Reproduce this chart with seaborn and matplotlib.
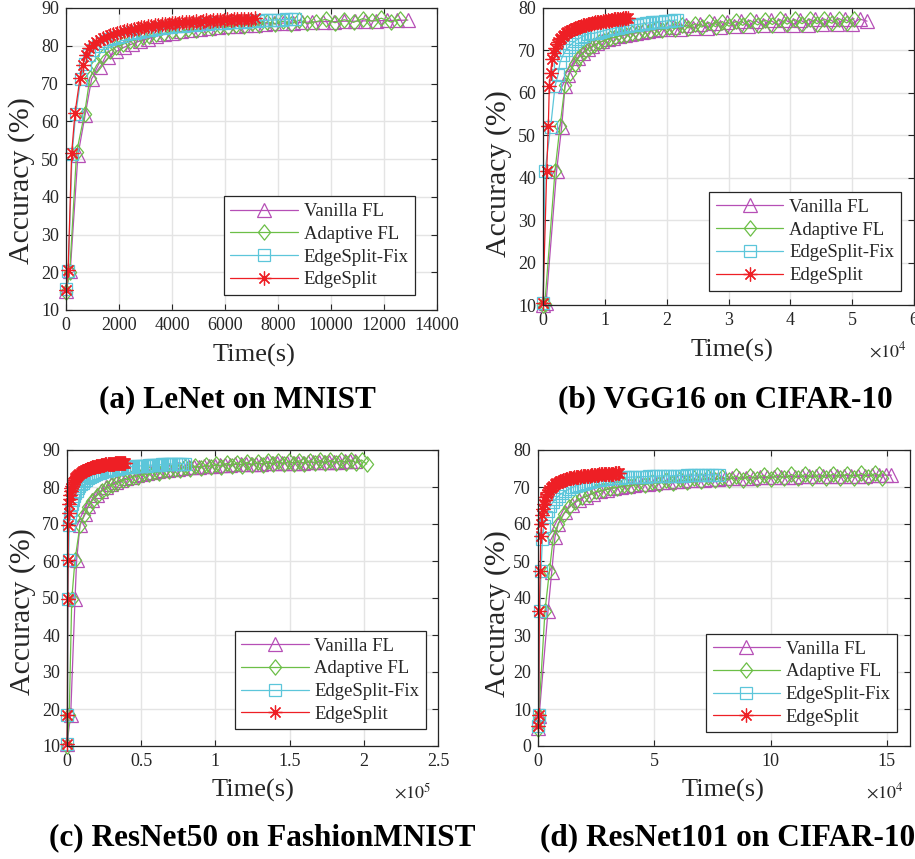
import matplotlib
matplotlib.use("Agg")
import matplotlib.pyplot as plt
from matplotlib.path import Path
from matplotlib.ticker import FuncFormatter
import seaborn as sns

# ---------------------------------------------------------------- data
SERIES = ["Vanilla FL", "Adaptive FL", "EdgeSplit-Fix", "EdgeSplit"]

# (a) LeNet on MNIST
lenet_vanilla_t = [0, 160, 450, 720, 970, 1280, 1600, 1900,
                   2200, 2500, 2800, 3100, 3400, 3700, 4000, 4350,
                   4700, 5050, 5400, 5750, 6100, 6450, 6800, 7150,
                   7500, 7850, 8200, 8550, 8900, 9300, 9700, 10100,
                   10500, 10900, 11300, 11700, 12100, 12500, 12900]
lenet_vanilla_acc = [15.0, 20.3, 51.0, 61.6, 71.3, 74.4, 76.9, 78.5,
                     79.6, 80.5, 81.3, 81.9, 82.5, 83.0, 83.4, 83.8,
                     84.1, 84.4, 84.7, 84.9, 85.1, 85.3, 85.5, 85.6,
                     85.8, 85.9, 86.0, 86.1, 86.2, 86.3, 86.4, 86.4,
                     86.5, 86.5, 86.6, 86.6, 86.7, 86.7, 86.8]
lenet_adaptive_t = [0, 140, 400, 700, 900, 1150, 1400, 1650,
                    1900, 2150, 2400, 2650, 2900, 3150, 3400, 3700,
                    4000, 4300, 4600, 4900, 5200, 5500, 5800, 6100,
                    6400, 6700, 7000, 7300, 7600, 7900, 8200, 8500,
                    8800, 9100, 9450, 9800, 10150, 10500, 10850, 11200,
                    11550, 11900, 12250, 12600]
lenet_adaptive_acc = [14.8, 20.0, 51.8, 62.0, 71.4, 74.8, 77.2, 78.6,
                      79.7, 80.4, 81.2, 81.6, 82.3, 82.6, 83.1, 83.3,
                      83.9, 83.6, 84.4, 84.1, 84.9, 84.6, 85.3, 84.9,
                      85.6, 85.2, 85.9, 85.4, 86.3, 85.7, 86.5, 85.8,
                      86.8, 85.9, 86.4, 87.0, 86.1, 86.9, 86.2, 87.2,
                      86.5, 87.3, 86.3, 87.1]
lenet_fix_t = [0, 85, 230, 365, 560, 720, 880, 1035,
               1190, 1345, 1500, 1655, 1810, 1965, 2120, 2275,
               2430, 2585, 2740, 2895, 3050, 3205, 3360, 3515,
               3670, 3825, 3980, 4135, 4290, 4445, 4600, 4755,
               4910, 5065, 5220, 5375, 5530, 5685, 5840, 5995,
               6150, 6305, 6460, 6615, 6770, 6925, 7080, 7235,
               7390, 7545, 7700, 7855, 8010, 8165, 8320, 8475,
               8630]
lenet_fix_acc = [15.5, 20.4, 51.4, 61.8, 71.3, 75.2, 77.6, 78.9,
                 79.9, 80.6, 81.2, 81.7, 82.1, 82.4, 82.7, 83.0,
                 83.3, 83.5, 83.7, 83.9, 84.1, 84.3, 84.4, 84.6,
                 84.7, 84.9, 85.0, 85.1, 85.2, 85.3, 85.4, 85.5,
                 85.6, 85.7, 85.7, 85.8, 85.9, 86.0, 86.0, 86.1,
                 86.2, 86.2, 86.3, 86.4, 86.4, 86.5, 86.5, 86.6,
                 86.7, 86.7, 86.8, 86.8, 86.9, 86.9, 87.0, 87.0,
                 87.1]
lenet_edgesplit_t = [0, 80, 215, 340, 530, 630, 755, 880,
                     1010, 1140, 1270, 1400, 1530, 1660, 1790, 1920,
                     2050, 2180, 2310, 2440, 2570, 2700, 2830, 2960,
                     3090, 3220, 3350, 3480, 3610, 3740, 3870, 4000,
                     4130, 4260, 4390, 4520, 4650, 4780, 4910, 5040,
                     5170, 5300, 5430, 5560, 5690, 5820, 5950, 6080,
                     6210, 6340, 6470, 6600, 6730, 6860, 6990, 7120]
lenet_edgesplit_acc = [15.3, 20.6, 51.7, 62.2, 71.5, 74.9, 77.5, 79.3,
                       80.2, 80.9, 81.5, 82.0, 82.4, 82.8, 83.1, 83.4,
                       83.7, 83.9, 84.1, 84.3, 84.5, 84.7, 84.9, 85.0,
                       85.1, 85.3, 85.4, 85.5, 85.7, 85.8, 85.8, 86.0,
                       86.1, 86.0, 86.2, 86.3, 86.3, 86.4, 86.5, 86.4,
                       86.6, 86.7, 86.6, 86.8, 86.7, 86.9, 86.9, 87.0,
                       86.9, 87.0, 87.1, 87.0, 87.2, 87.1, 87.2, 87.3]

# (b) VGG16 on CIFAR-10
vgg_vanilla_t = [0, 500, 2200, 3020, 3560, 4100, 4860, 5600,
                 6400, 7200, 8000, 8800, 9600, 10500, 11400, 12300,
                 13200, 14100, 15000, 16000, 17000, 18000, 19000, 20000,
                 21000, 22100, 23200, 24300, 25400, 26500, 27600, 28700,
                 29800, 30900, 32000, 33200, 34400, 35600, 36800, 38000,
                 39200, 40400, 41600, 42800, 44000, 45200, 46400, 47600,
                 48800, 50000, 51200, 52400]
vgg_vanilla_acc = [10.0, 10.5, 41.6, 52.0, 61.5, 64.3, 66.8, 68.3,
                   69.5, 70.4, 71.1, 71.7, 72.2, 72.7, 73.0, 73.4,
                   73.6, 73.9, 74.1, 74.4, 74.6, 74.8, 75.0, 75.1,
                   75.6, 75.1, 75.9, 75.3, 76.2, 75.4, 76.5, 75.6,
                   76.7, 75.7, 76.9, 75.8, 77.0, 75.9, 77.1, 76.0,
                   77.2, 76.1, 77.2, 76.1, 77.3, 76.2, 77.3, 76.2,
                   77.4, 76.3, 77.4, 76.9]
vgg_adaptive_t = [0, 300, 1940, 2750, 3560, 4300, 5100, 5900,
                  6700, 7500, 8300, 9100, 9900, 10800, 11700, 12600,
                  13500, 14400, 15300, 16300, 17300, 18300, 19300, 20300,
                  21300, 22400, 23500, 24600, 25700, 26800, 27900, 29000,
                  30100, 31200, 32300, 33500, 34700, 35900, 37100, 38300,
                  39500, 40700, 41900, 43100, 44300, 45500, 46700, 47900,
                  49100, 50300]
vgg_adaptive_acc = [10.0, 10.3, 41.6, 52.2, 61.8, 64.6, 66.9, 68.5,
                    69.6, 70.6, 71.2, 71.9, 72.3, 72.9, 73.1, 73.6,
                    73.7, 74.2, 74.2, 74.8, 74.6, 75.3, 74.9, 75.6,
                    75.1, 76.0, 75.3, 76.3, 75.5, 76.6, 75.6, 76.8,
                    75.7, 76.9, 75.9, 77.1, 76.0, 77.2, 76.1, 77.3,
                    76.2, 77.3, 76.3, 77.4, 76.3, 77.4, 76.4, 77.5,
                    76.5, 77.5]
vgg_fix_t = [0, 320, 1240, 1940, 2430, 2750, 3240, 3700,
             4200, 4700, 5200, 5700, 6200, 6700, 7200, 7700,
             8200, 8700, 9200, 9700, 10200, 10700, 11200, 11700,
             12200, 12700, 13200, 13700, 14200, 14700, 15200, 15700,
             16200, 16700, 17200, 17700, 18200, 18700, 19200, 19700,
             20200, 20700, 21200, 21700]
vgg_fix_acc = [10.4, 41.5, 52.0, 61.5, 64.3, 67.2, 68.9, 70.0,
               70.9, 71.6, 72.2, 72.7, 73.1, 73.5, 73.8, 74.1,
               74.0, 74.2, 74.4, 74.6, 74.8, 75.0, 75.1, 75.3,
               75.4, 75.5, 75.7, 75.8, 75.9, 76.0, 76.1, 76.2,
               76.3, 76.4, 76.5, 76.6, 76.7, 76.8, 76.8, 76.9,
               77.0, 77.0, 77.1, 77.2]
vgg_edgesplit_t = [0, 600, 860, 1020, 1240, 1460, 1700, 1950,
                   2200, 2450, 2700, 2950, 3200, 3450, 3700, 3950,
                   4200, 4450, 4700, 4950, 5200, 5450, 5700, 5950,
                   6200, 6450, 6700, 6950, 7200, 7450, 7700, 7950,
                   8200, 8450, 8700, 8950, 9200, 9450, 9700, 9950,
                   10200, 10450, 10700, 10950, 11200, 11450, 11700, 11950,
                   12200, 12450, 12700, 12950, 13200, 13450, 13700]
vgg_edgesplit_acc = [10.5, 41.6, 52.2, 61.6, 64.7, 67.9, 69.5, 70.6,
                     71.4, 72.0, 72.6, 73.0, 73.4, 73.7, 74.0, 74.3,
                     74.5, 74.7, 74.9, 75.1, 75.2, 75.4, 75.5, 75.6,
                     75.8, 75.9, 76.0, 76.1, 76.2, 76.3, 76.3, 76.4,
                     76.5, 76.6, 76.6, 76.7, 76.8, 76.8, 76.9, 76.9,
                     77.0, 77.1, 77.0, 77.2, 77.2, 77.3, 77.3, 77.4,
                     77.4, 77.5, 77.5, 77.6, 77.6, 77.7, 77.7]

# (c) ResNet50 on FashionMNIST
r50_vanilla_t = [0, 2500, 5400, 6500, 8800, 12100, 14400, 17000,
                 20000, 23000, 26000, 29500, 33000, 36500, 40000, 43500,
                 47000, 50500, 54000, 57500, 61000, 64500, 68000, 71500,
                 75000, 78500, 82000, 85500, 89000, 92500, 96000, 99500,
                 103000, 106500, 110000, 113500, 117000, 120500, 124000, 127500,
                 131000, 134500, 138000, 141500, 145000, 148500, 152000, 155500,
                 159000, 162500, 166000, 169500, 173000, 176500, 180000, 183500,
                 187000, 190500, 194000]
r50_vanilla_acc = [10.5, 18.5, 49.7, 60.3, 69.8, 72.6, 74.9, 76.6,
                   77.9, 79.0, 79.9, 80.7, 81.3, 81.9, 82.4, 82.8,
                   83.2, 83.5, 83.8, 84.1, 84.3, 84.5, 84.7, 84.9,
                   85.0, 85.2, 85.3, 85.4, 85.5, 85.6, 85.7, 85.8,
                   85.9, 85.9, 86.0, 86.1, 86.1, 86.2, 86.2, 86.3,
                   86.3, 86.4, 86.4, 86.5, 86.5, 86.5, 86.6, 86.6,
                   86.6, 86.7, 86.7, 86.7, 86.8, 86.8, 86.8, 86.8,
                   86.9, 86.9, 86.9]
r50_adaptive_t = [0, 1500, 3200, 5400, 8800, 11500, 14000, 17000,
                  20000, 23500, 27000, 30500, 34000, 37500, 41000, 44500,
                  48000, 51500, 55000, 58500, 62000, 65500, 69000, 72500,
                  76000, 79500, 83000, 86500, 90000, 93500, 97000, 100500,
                  104000, 107500, 111000, 114500, 118000, 121500, 125000, 128500,
                  132000, 135500, 139000, 142500, 146000, 149500, 153000, 156500,
                  160000, 163500, 167000, 170500, 174000, 177500, 181000, 184500,
                  188000, 191500, 195000, 198500, 202000]
r50_adaptive_acc = [10.0, 18.5, 49.7, 60.3, 69.8, 72.4, 74.6, 76.3,
                    77.6, 78.9, 79.7, 80.6, 81.0, 81.8, 82.1, 82.7,
                    82.8, 83.5, 83.4, 84.1, 83.8, 84.6, 84.2, 85.0,
                    84.6, 85.4, 84.9, 85.7, 85.1, 86.0, 85.3, 86.2,
                    85.5, 86.4, 85.7, 86.6, 85.8, 86.7, 85.9, 86.8,
                    86.0, 86.9, 86.1, 87.0, 86.2, 87.0, 86.3, 87.1,
                    86.3, 87.1, 86.4, 87.2, 86.4, 87.2, 86.5, 87.2,
                    86.5, 87.3, 86.5, 87.3, 86.2]
r50_fix_t = [0, 300, 700, 1100, 1600, 2100, 2700, 3300,
             4000, 4800, 5600, 6500, 7400, 8400, 9400, 10500,
             11600, 12800, 14000, 15300, 16600, 18000, 19400, 20800,
             22200, 23700, 25200, 26700, 28200, 29700, 31200, 32700,
             34200, 35700, 37200, 38700, 40200, 41700, 43200, 44700,
             46200, 47700, 49200, 50700, 52200, 53700, 55200, 56700,
             58200, 59700, 61200, 62700, 64200, 65700, 67200, 68700,
             70200, 71700, 73200, 74700, 76200, 77700, 79200]
r50_fix_acc = [10.5, 18.5, 49.7, 60.3, 69.8, 72.0, 73.9, 75.3,
               76.5, 77.5, 78.3, 79.0, 79.6, 80.2, 80.7, 81.2,
               81.6, 82.0, 82.4, 82.7, 83.0, 83.3, 83.5, 83.7,
               83.9, 84.1, 84.3, 84.4, 84.6, 84.7, 84.8, 84.9,
               85.0, 85.1, 85.2, 85.3, 85.3, 85.4, 85.5, 85.5,
               85.6, 85.6, 85.7, 85.7, 85.8, 85.8, 85.9, 85.9,
               85.9, 86.0, 86.0, 86.0, 86.1, 86.1, 86.1, 86.2,
               86.2, 86.2, 86.2, 86.3, 86.3, 86.3, 86.3]
r50_edgesplit_t = [0, 250, 500, 750, 1000, 1250, 1500, 1800,
                   2100, 2500, 2900, 3400, 3900, 4500, 5100, 5700,
                   6300, 7000, 7700, 8400, 9100, 9800, 10500, 11200,
                   11900, 12600, 13300, 14000, 14700, 15400, 16100, 16800,
                   17500, 18200, 18900, 19600, 20300, 21000, 21700, 22400,
                   23100, 23800, 24500, 25200, 25900, 26600, 27300, 28000,
                   28700, 29400, 30100, 30800, 31500, 32200, 32900, 33600,
                   34300, 35000, 35700, 36400, 37100, 37800, 38500, 39200]
r50_edgesplit_acc = [10.5, 18.5, 49.7, 60.3, 69.8, 72.9, 75.3, 76.8,
                     77.9, 78.9, 79.6, 80.3, 80.9, 81.4, 81.9, 82.3,
                     82.6, 83.0, 83.3, 83.5, 83.8, 84.0, 84.2, 84.4,
                     84.5, 84.7, 84.8, 84.9, 85.0, 85.1, 85.2, 85.3,
                     85.4, 85.5, 85.5, 85.6, 85.7, 85.7, 85.8, 85.8,
                     85.9, 85.9, 86.0, 86.0, 86.1, 86.1, 86.1, 86.2,
                     86.2, 86.2, 86.3, 86.3, 86.3, 86.4, 86.4, 86.4,
                     86.5, 86.5, 86.5, 86.5, 86.6, 86.6, 86.6, 86.6]

# (d) ResNet101 on CIFAR-10
r101_vanilla_t = [0, 500, 4300, 5900, 7300, 8700, 11600, 14500,
                  17500, 20500, 23500, 26500, 29500, 32500, 35500, 38500,
                  41500, 44500, 47500, 50500, 53500, 56500, 59500, 62500,
                  65500, 68500, 71500, 74500, 77500, 80500, 83500, 86500,
                  89500, 92500, 95500, 98500, 101500, 104500, 107500, 110500,
                  113500, 116500, 119500, 122500, 125500, 128500, 131500, 134500,
                  137500, 140500, 143500, 146500, 149500, 152000]
r101_vanilla_acc = [5.0, 8.2, 36.5, 47.0, 56.5, 60.0, 63.2, 65.1,
                    66.4, 67.4, 68.2, 68.8, 69.3, 69.7, 70.0, 70.3,
                    70.5, 70.7, 70.9, 71.1, 71.3, 71.4, 71.6, 71.7,
                    71.8, 71.9, 72.0, 72.1, 72.2, 72.3, 72.3, 72.4,
                    72.5, 72.5, 72.6, 72.6, 72.7, 72.7, 72.8, 72.8,
                    72.9, 72.9, 72.9, 73.0, 73.0, 73.0, 73.1, 73.1,
                    73.1, 73.1, 73.2, 73.2, 73.2, 73.2]
r101_adaptive_t = [0, 300, 3000, 4900, 6600, 8700, 11000, 13500,
                   16000, 19000, 22000, 25000, 28000, 31000, 34000, 37000,
                   40000, 43000, 46000, 49000, 52000, 55000, 58000, 61000,
                   64000, 67000, 70000, 73000, 76000, 79000, 82000, 85000,
                   88000, 91000, 94000, 97000, 100000, 103000, 106000, 109000,
                   112000, 115000, 118000, 121000, 124000, 127000, 130000, 133000,
                   136000, 139000, 142000, 145000, 148000]
r101_adaptive_acc = [4.5, 8.0, 36.5, 47.2, 56.6, 60.1, 62.8, 64.7,
                     66.0, 67.2, 67.9, 68.8, 69.1, 69.8, 69.8, 70.5,
                     70.2, 71.0, 70.6, 71.4, 70.9, 71.8, 71.2, 72.1,
                     71.4, 72.4, 71.6, 72.6, 71.8, 72.8, 71.9, 73.0,
                     72.0, 73.1, 72.1, 73.2, 72.2, 73.3, 72.3, 73.4,
                     72.3, 73.5, 72.4, 73.5, 72.4, 73.6, 72.5, 73.6,
                     72.5, 73.7, 72.6, 73.7, 72.5]
r101_fix_t = [0, 400, 800, 1300, 1900, 2600, 3400, 4300,
              5300, 6400, 7600, 8900, 10300, 11800, 13300, 14800,
              16300, 17800, 19300, 20800, 22300, 23800, 25300, 26800,
              28300, 29800, 31300, 32800, 34300, 35800, 37300, 38800,
              40300, 41800, 43300, 44800, 46300, 47800, 49300, 50800,
              52300, 53800, 55300, 56800, 58300, 59800, 61300, 62800,
              64300, 65800, 67300, 68800, 70300, 71800, 73300, 74800,
              76300, 77800]
r101_fix_acc = [5.5, 8.4, 36.5, 47.2, 56.0, 59.5, 61.8, 63.5,
                64.8, 65.9, 66.8, 67.6, 68.3, 68.9, 69.4, 69.9,
                70.3, 70.6, 70.9, 71.2, 71.4, 71.6, 71.8, 71.9,
                72.1, 72.2, 72.3, 72.4, 72.5, 72.5, 72.6, 72.6,
                72.7, 72.7, 72.8, 72.8, 72.8, 72.9, 72.9, 72.9,
                73.0, 73.0, 73.0, 73.0, 73.1, 73.1, 73.1, 73.1,
                73.2, 73.2, 73.2, 73.2, 73.2, 73.3, 73.3, 73.3,
                73.3, 73.3]
r101_edgesplit_t = [0, 300, 600, 900, 1200, 1500, 1800, 2100,
                    2400, 2800, 3200, 3700, 4200, 4800, 5400, 6000,
                    6600, 7200, 7800, 8400, 9000, 9600, 10200, 10800,
                    11400, 12000, 12600, 13200, 13800, 14400, 15000, 15600,
                    16200, 16800, 17400, 18000, 18600, 19200, 19800, 20400,
                    21000, 21600, 22200, 22800, 23400, 24000, 24600, 25200,
                    25800, 26400, 27000, 27600, 28200, 28800, 29400, 30000,
                    30600, 31200, 31800, 32400, 33000, 33600, 34200, 34800]
r101_edgesplit_acc = [5.5, 8.4, 36.5, 47.2, 56.8, 59.9, 62.3, 64.0,
                      65.3, 66.4, 67.3, 68.0, 68.6, 69.2, 69.7, 70.1,
                      70.4, 70.7, 71.0, 71.2, 71.4, 71.6, 71.7, 71.9,
                      72.0, 72.1, 72.2, 72.3, 72.4, 72.5, 72.5, 72.6,
                      72.7, 72.7, 72.8, 72.8, 72.9, 72.9, 73.0, 73.0,
                      73.1, 73.1, 73.1, 73.2, 73.2, 73.2, 73.3, 73.3,
                      73.3, 73.4, 73.4, 73.4, 73.5, 73.5, 73.5, 73.5,
                      73.6, 73.6, 73.6, 73.6, 73.7, 73.7, 73.7, 73.7]

# axis ticks
lenet_xticks = [0, 2000, 4000, 6000, 8000, 10000, 12000, 14000]
lenet_yticks = [10, 20, 30, 40, 50, 60, 70, 80, 90]
vgg_xticks = [0, 10000, 20000, 30000, 40000, 50000, 60000]
vgg_yticks = [10, 20, 30, 40, 50, 60, 70, 80]
r50_xticks = [0, 50000, 100000, 150000, 200000, 250000]
r50_yticks = [10, 20, 30, 40, 50, 60, 70, 80, 90]
r101_xticks = [0, 50000, 100000, 150000]
r101_yticks = [0, 10, 20, 30, 40, 50, 60, 70, 80]

# ---------------------------------------------------------------- style
sns.set_style("ticks")
plt.rcParams["font.family"] = ["Liberation Serif", "DejaVu Serif"]
plt.rcParams["mathtext.fontset"] = "stix"

INK = "#262626"
COLORS = {"Vanilla FL": "#B64FB6", "Adaptive FL": "#6CBF47",
          "EdgeSplit-Fix": "#5CC6DA", "EdgeSplit": "#EE1F25"}
DIAMOND = Path([(0, 1), (0.8, 0), (0, -1), (-0.8, 0), (0, 1)], closed=True)
MARKERS = {"Vanilla FL": "^", "Adaptive FL": DIAMOND,
           "EdgeSplit-Fix": "s", "EdgeSplit": (8, 2, 0)}
MSIZE = {"Vanilla FL": 10.5, "Adaptive FL": 11, "EdgeSplit-Fix": 9,
         "EdgeSplit": 10}

W, H = 915, 859
fig = plt.figure(figsize=(W / 100, H / 100), dpi=100)


def px_axes(left, top, right, bottom):
    return fig.add_axes([left / W, 1 - bottom / H, (right - left) / W,
                         (bottom - top) / H])


panels = [
    dict(rect=(66, 8, 437, 310),
         runs=[(lenet_vanilla_t, lenet_vanilla_acc),
               (lenet_adaptive_t, lenet_adaptive_acc),
               (lenet_fix_t, lenet_fix_acc),
               (lenet_edgesplit_t, lenet_edgesplit_acc)],
         xlim=(0, 14000), ylim=(10, 90), xticks=lenet_xticks,
         yticks=lenet_yticks, exp=None, ylab=(-0.119, 0.43),
         xlab=(0.507, -0.149), leg=(0.941, 0.050),
         title="(a) LeNet on MNIST", tpos=(237.5, 400, "center")),
    dict(rect=(543, 8, 914, 305),
         runs=[(vgg_vanilla_t, vgg_vanilla_acc),
               (vgg_adaptive_t, vgg_adaptive_acc),
               (vgg_fix_t, vgg_fix_acc),
               (vgg_edgesplit_t, vgg_edgesplit_acc)],
         xlim=(0, 60000), ylim=(10, 80), xticks=vgg_xticks,
         yticks=vgg_yticks, exp=(4, 869, 351), ylab=(-0.121, 0.444),
         xlab=(0.509, -0.152), leg=(0.964, 0.048),
         title="(b) VGG16 on CIFAR-10", tpos=(725, 400, "center")),
    dict(rect=(67, 450, 438, 746),
         runs=[(r50_vanilla_t, r50_vanilla_acc),
               (r50_adaptive_t, r50_adaptive_acc),
               (r50_fix_t, r50_fix_acc),
               (r50_edgesplit_t, r50_edgesplit_acc)],
         xlim=(0, 250000), ylim=(10, 90), xticks=r50_xticks,
         yticks=r50_yticks, exp=(5, 394, 792), ylab=(-0.119, 0.453),
         xlab=(0.502, -0.149), leg=(0.967, 0.056),
         title="(c) ResNet50 on FashionMNIST", tpos=(49, 838, "left")),
    dict(rect=(538, 450, 910, 746),
         runs=[(r101_vanilla_t, r101_vanilla_acc),
               (r101_adaptive_t, r101_adaptive_acc),
               (r101_fix_t, r101_fix_acc),
               (r101_edgesplit_t, r101_edgesplit_acc)],
         xlim=(0, 160000), ylim=(0, 80), xticks=r101_xticks,
         yticks=r101_yticks, exp=(4, 866, 792), ylab=(-0.110, 0.446),
         xlab=(0.496, -0.149), leg=(0.966, 0.046),
         title="(d) ResNet101 on CIFAR-10", tpos=(540, 838, "left")),
]

for p in panels:
    ax = px_axes(*p["rect"])
    for name, (t, acc) in zip(SERIES, p["runs"]):
        c = COLORS[name]
        sns.lineplot(x=t, y=acc, ax=ax, label=name, color=c,
                     marker=MARKERS[name], markersize=MSIZE[name],
                     markerfacecolor="none", markeredgecolor=c,
                     markeredgewidth=0.9, linewidth=0.9,
                     estimator=None, sort=False, errorbar=None,
                     clip_on=False)

    ax.set_xlim(*p["xlim"])
    ax.set_ylim(*p["ylim"])
    ax.set_xticks(p["xticks"])
    ax.set_yticks(p["yticks"])
    if p["exp"] is not None:
        e, ex, ey = p["exp"]
        ax.xaxis.set_major_formatter(
            FuncFormatter(lambda v, pos, e=e: f"{v / 10 ** e:g}"))
        fig.text(ex / W, 1 - ey / H, rf"$\times10^{{{e}}}$", fontsize=13,
                 color=INK, ha="left", va="center")
    else:
        ax.xaxis.set_major_formatter(FuncFormatter(lambda v, pos: f"{v:g}"))

    ax.grid(True, color="#e4e4e4", linewidth=1.0)
    ax.set_axisbelow(True)
    for s in ax.spines.values():
        s.set_color(INK)
        s.set_linewidth(0.9)
    ax.tick_params(direction="in", top=True, right=True, length=4,
                   width=0.8, colors=INK, labelsize=13, pad=5)

    ax.set_xlabel("Time(s)", fontsize=19, color=INK)
    ax.set_ylabel("Accuracy (%)", fontsize=21.5, color=INK)
    ax.xaxis.label.set_va("center")
    ax.yaxis.label.set_va("center")
    ax.xaxis.set_label_coords(*p["xlab"])
    ax.yaxis.set_label_coords(*p["ylab"])

    leg = ax.legend(loc="lower right", bbox_to_anchor=p["leg"],
                    borderaxespad=0, fontsize=13.5, handlelength=3.6,
                    handletextpad=0.3, labelspacing=0.3, borderpad=0.35,
                    frameon=True, fancybox=False, framealpha=1,
                    edgecolor=INK)
    leg.get_frame().set_linewidth(0.9)
    for txt in leg.get_texts():
        txt.set_color(INK)

    tx, ty, ha = p["tpos"]
    fig.text(tx / W, 1 - ty / H, p["title"], fontsize=22.5,
             fontweight="bold", ha=ha, va="center", color="black")

fig.savefig("out.png", dpi=100)
